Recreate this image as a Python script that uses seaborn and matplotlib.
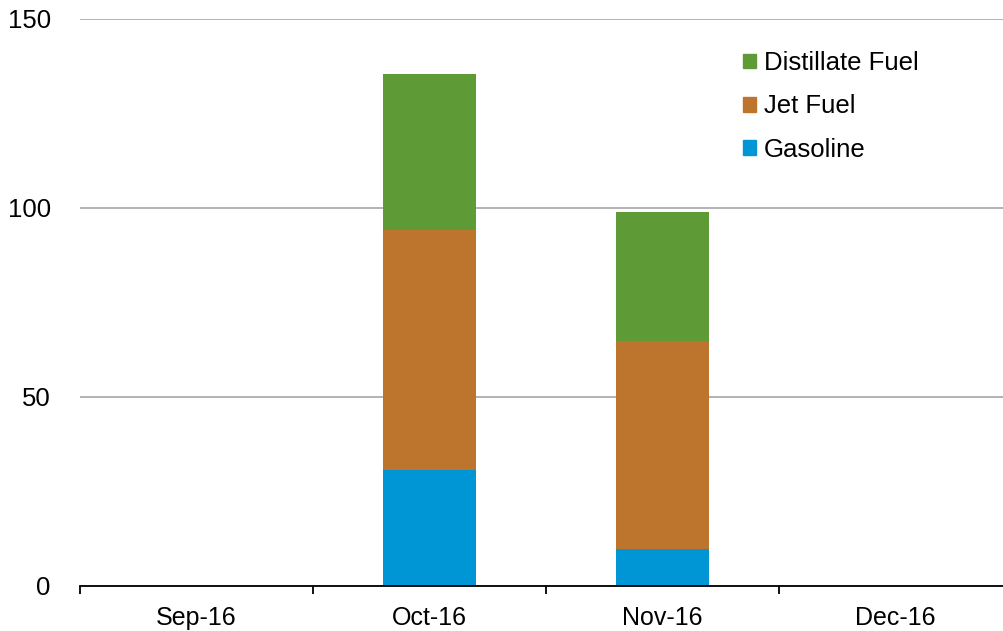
import pandas as pd
import matplotlib.pyplot as plt
import seaborn as sns
from matplotlib.patches import Patch

# Values
months = ['Sep-16', 'Oct-16', 'Nov-16', 'Dec-16']
gasoline = [0, 30.5, 9.7, 0]
jet_fuel = [0, 63.7, 55.1, 0]
distillate = [0, 41.3, 34.2, 0]

colors = {'Gasoline': '#0096D6', 'Jet Fuel': '#BD742C', 'Distillate Fuel': '#5E9A35'}

df = pd.DataFrame({'month': months, 'Gasoline': gasoline,
                   'Jet Fuel': jet_fuel, 'Distillate Fuel': distillate})
# cumulative tops for stacking
df['jet_top'] = df['Gasoline'] + df['Jet Fuel']
df['dist_top'] = df['jet_top'] + df['Distillate Fuel']

sns.set_style('white')
plt.rcParams['font.family'] = ['Liberation Sans', 'DejaVu Sans']
plt.rcParams['text.color'] = 'black'

fig = plt.figure(figsize=(10.04, 6.31), dpi=100)
ax = fig.add_axes([80 / 1004, 45.5 / 631, 932 / 1004, 566.5 / 631])

# draw largest first so smaller layers sit on top
for col, name in [('dist_top', 'Distillate Fuel'), ('jet_top', 'Jet Fuel'), ('Gasoline', 'Gasoline')]:
    sns.barplot(data=df, x='month', y=col, order=months, color=colors[name],
                width=0.4, saturation=1, linewidth=0, ax=ax, zorder=3)

ax.set_ylim(0, 150)
ax.set_xlim(-0.5, 3.5)
ax.set_yticks([0, 50, 100, 150])
ax.yaxis.grid(True, color='#A6A6A6', linewidth=1.2, zorder=0)
ax.set_axisbelow(True)

for s in ['top', 'right', 'left']:
    ax.spines[s].set_visible(False)
ax.spines['bottom'].set_color('black')
ax.spines['bottom'].set_linewidth(1.3)
ax.spines['bottom'].set_zorder(4)

# month labels centred, tick marks at category boundaries
ax.set_xticks(range(len(months)))
ax.set_xticklabels(months, fontsize=18)
ax.tick_params(axis='x', which='major', length=0, pad=15, labelcolor='black')
ax.set_xticks([-0.5, 0.5, 1.5, 2.5, 3.5], minor=True)
ax.tick_params(axis='x', which='minor', bottom=True, length=6, width=1.3,
               color='black', direction='out')
ax.tick_params(axis='y', length=0, labelsize=18.5, pad=21, labelcolor='black')
ax.set_xlabel('')
ax.set_ylabel('')

handles = [Patch(color=colors[k]) for k in ['Distillate Fuel', 'Jet Fuel', 'Gasoline']]
leg = fig.legend(handles, ['Distillate Fuel', 'Jet Fuel', 'Gasoline'],
                 loc='upper left', bbox_to_anchor=(720 / 1004, 1 - 28 / 631),
                 frameon=False, fontsize=18.5, handlelength=0.5, handleheight=0.5,
                 handletextpad=0.3, labelspacing=0.75)
for t in leg.get_texts():
    t.set_color('black')

fig.savefig('out.png', dpi=100)
